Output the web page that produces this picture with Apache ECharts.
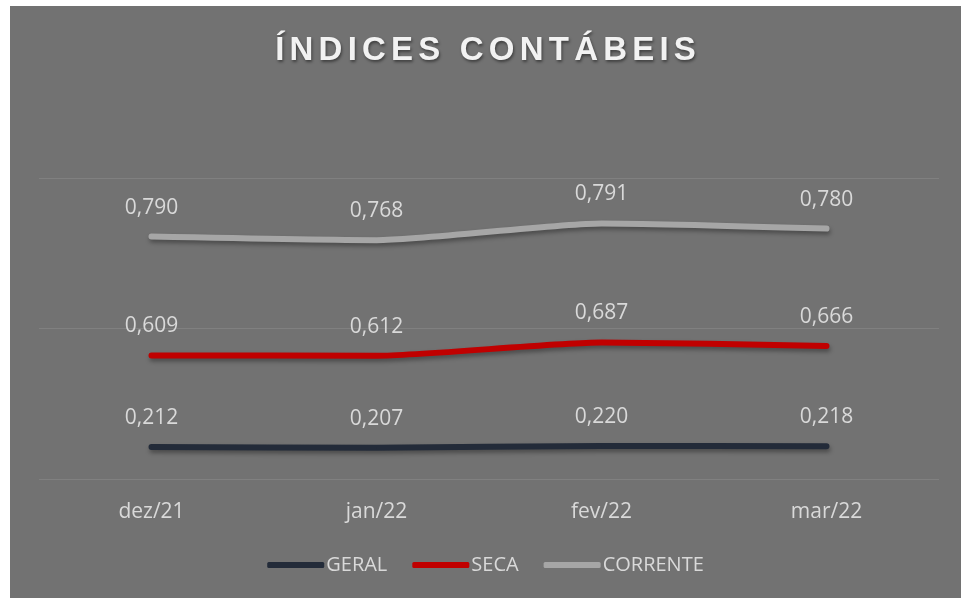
<!DOCTYPE html>
<html lang="pt">
<head>
    <meta charset="UTF-8"/>
    <title>Índices contábeis</title>
    <style>
        html, body { margin: 0; padding: 0; background: #ffffff; }
        #indicesChart { position: absolute; left: 10px; top: 6px; width: 951px; height: 592px; }
    </style>
</head>
<body>
<div id="indicesChart"></div>
<script src="https://cdn.jsdelivr.net/npm/echarts@6/dist/echarts.min.js"></script>
<script type="text/javascript">
    // dados (linhas empilhadas)
    var titulo = 'ÍNDICES CONTÁBEIS';
    var meses = ['dez/21', 'jan/22', 'fev/22', 'mar/22'];
    var geral = [0.212, 0.207, 0.220, 0.218];
    var seca = [0.609, 0.612, 0.687, 0.666];
    var corrente = [0.790, 0.768, 0.791, 0.780];

    var texto = '#d9d9d9';
    var fonte = "'Open Sans', 'Liberation Sans', sans-serif";

    // espaçamento entre letras do título (rich text, uma letra por bloco)
    var tituloRich = titulo.split('').map(function (c) {
        return '{l|' + c + '}';
    }).join('');

    function serie(nome, cor, dados) {
        return {
            name: nome,
            type: 'line',
            stack: 'total',
            data: dados,
            smooth: 0.2,
            symbol: 'circle',
            symbolSize: 1,
            showSymbol: true,
            lineStyle: {
                color: cor,
                width: 6,
                cap: 'round',
                join: 'round',
                shadowColor: 'rgba(0,0,0,0.35)',
                shadowBlur: 4,
                shadowOffsetX: 1,
                shadowOffsetY: 3
            },
            itemStyle: { color: cor },
            label: {
                show: true,
                position: 'top',
                distance: 18,
                color: texto,
                fontSize: 21,
                fontFamily: fonte,
                formatter: function (p) {
                    return p.value.toFixed(3).replace('.', ',');
                }
            }
        };
    }

    var myChart = echarts.init(document.getElementById('indicesChart'));
    var option = {
        backgroundColor: '#727272',
        animation: false,
        title: {
            text: tituloRich,
            left: 'center',
            top: 23,
            textStyle: {
                rich: {
                    l: {
                        color: '#f2f2f2',
                        fontSize: 33,
                        fontWeight: 'bold',
                        fontFamily: "'Liberation Sans', Arial, sans-serif",
                        padding: [0, 2.6],
                        textShadowColor: 'rgba(0,0,0,0.45)',
                        textShadowBlur: 3,
                        textShadowOffsetX: 1,
                        textShadowOffsetY: 2
                    }
                }
            }
        },
        legend: {
            bottom: 18,
            left: 'center',
            icon: 'roundRect',
            itemWidth: 57,
            itemHeight: 6,
            itemGap: 25,
            data: ['GERAL', 'SECA', 'CORRENTE'],
            textStyle: { color: texto, fontSize: 20, fontFamily: fonte, padding: [0, 0, 0, -3] }
        },
        grid: { left: 29, right: 22, top: 172, bottom: 119 },
        xAxis: {
            type: 'category',
            data: meses,
            boundaryGap: true,
            axisLine: { show: false },
            axisTick: { show: false },
            axisLabel: { color: texto, fontSize: 21, fontFamily: fonte, margin: 23 }
        },
        yAxis: {
            type: 'value',
            min: 0,
            max: 2,
            interval: 1,
            axisLabel: { show: false },
            axisLine: { show: false },
            axisTick: { show: false },
            splitLine: { lineStyle: { color: '#808080', width: 1 } }
        },
        series: [
            serie('GERAL', '#232b39', geral),
            serie('SECA', '#c00000', seca),
            serie('CORRENTE', '#a6a6a6', corrente)
        ]
    };
    myChart.setOption(option);
</script>
</body>
</html>
